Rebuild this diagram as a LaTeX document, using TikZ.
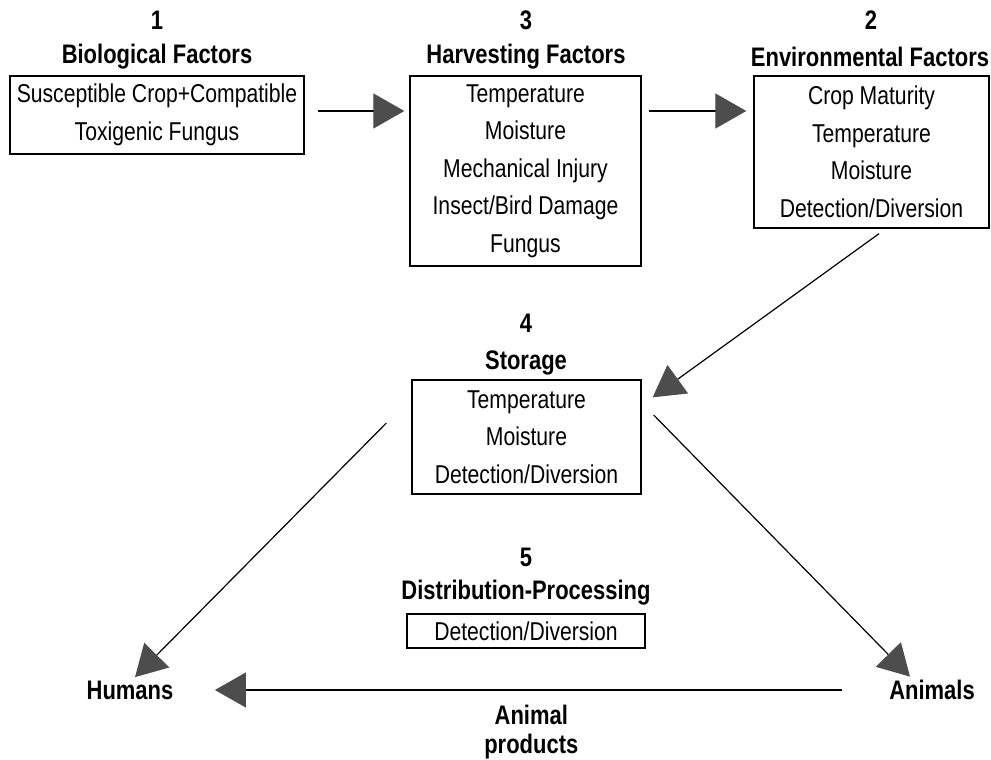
\documentclass[tikz,border=0pt]{standalone}
\usepackage{fontspec}
\setmainfont{Liberation Sans}[FakeStretch=0.82]
\usetikzlibrary{arrows.meta}
\definecolor{headgray}{HTML}{4D4D4D}

\begin{document}
\begin{tikzpicture}[x=1pt, y=-1pt,
                factor/.style={draw, rectangle, line width=1.3pt, inner sep=0pt, align=center, font=\fontsize{25.8}{37.5}\selectfont},
                title/.style={font=\bfseries\fontsize{26.8}{29}\selectfont, align=center},
                flow/.style={-{Triangle[length=31pt, width=35pt, color=headgray]}, line width=1.2pt}]

                \useasboundingbox (0,0) rectangle (991,760);

                \node[title] (num1) at (157,20) {1};
                \node[title] (head1) at (157,57) {Biological Factors};
                \node[factor, minimum width=294, minimum height=78] (bio) at (157,115) {Susceptible Crop+Compatible\\Toxigenic Fungus};

                \node[title] (num3) at (526,20) {3};
                \node[title] (head3) at (526,57) {Harvesting Factors};
                \node[factor, minimum width=231, minimum height=190] (harv) at (525.5,171) {Temperature\\Moisture\\Mechanical Injury\\Insect/Bird Damage\\Fungus};

                \node[title] (num2) at (871,20) {2};
                \node[title] (head2) at (870,57) {Environmental Factors};
                \node[factor, minimum width=235, minimum height=152] (env) at (871.5,152) {Crop Maturity\\Temperature\\Moisture\\Detection/Diversion};

                \node[title] (num4) at (526,323) {4};
                \node[title] (head4) at (526,363) {Storage};
                \node[factor, minimum width=229, minimum height=114] (store) at (526.5,437) {Temperature\\Moisture\\Detection/Diversion};

                \node[title] (num5) at (526,557) {5};
                \node[title] (head5) at (526,593) {Distribution-Processing};
                \node[factor, minimum width=238, minimum height=34] (dist) at (526,631) {Detection/Diversion};

                \node[title] (hum) at (130,690) {Humans};
                \node[title] (ani) at (932,690) {Animals};

                % flow of the crop
                \draw[flow, shorten <=13pt, shorten >=5pt] ([yshift=4pt]bio.east) -- ([yshift=4pt]bio.east -| harv.west);
                \draw[flow, shorten <=7pt, shorten >=7pt] ([yshift=60pt]harv.east) -- ([yshift=60pt]harv.east -| env.west);
                \draw[flow] ([xshift=7.5pt, yshift=-5pt]env.south) -- ([xshift=11pt, yshift=-18pt]store.north east);
                \draw[flow] ([xshift=-25pt, yshift=14pt]store.west) -- ([xshift=5pt]hum.north);
                \draw[flow] ([xshift=12pt, yshift=22pt]store.east) -- ([xshift=-22pt]ani.north);
                \draw[flow, shorten <=44pt, shorten >=38pt] (ani) -- (hum)
                    node[title, midway, below=11pt] (prod) {Animal\\products};
\end{tikzpicture}
\end{document}
